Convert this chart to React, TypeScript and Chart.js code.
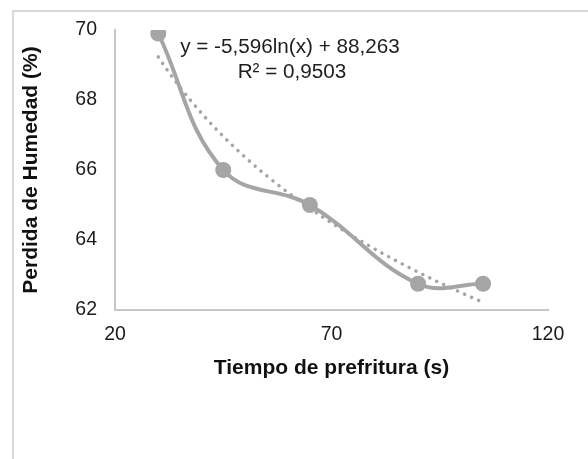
import React, { useEffect, useRef } from "react";
import { Chart, registerables } from "chart.js";

Chart.register(...registerables);

// ---- data ----
const timeValues = [30, 45, 65, 90, 105];
const moistureLoss = [69.9, 66.0, 65.0, 62.75, 62.75];
const xTickValues = [20, 70, 120];
const yTickValues = [62, 64, 66, 68, 70];
// logarithmic trendline coefficients shown on the chart
const trendSlope = -5.596;
const trendIntercept = 88.263;
const trendLabels = ["y = -5,596ln(x) + 88,263", "R² = 0,9503"];
const xAxisTitle = "Tiempo de prefritura (s)";
const yAxisTitle = "Perdida de Humedad (%)";

const FONT = '"Liberation Sans", Arial, sans-serif';
const GRAY = "#a5a5a5";

export default function App() {
  const ref = useRef<HTMLCanvasElement | null>(null);

  useEffect(() => {
    if (!ref.current) return;
    const xMin = timeValues[0];
    const xMax = timeValues[timeValues.length - 1];
    const trend: { x: number; y: number }[] = [];
    const steps = 60;
    for (let i = 0; i <= steps; i++) {
      const x = xMin + ((xMax - xMin) * i) / steps;
      trend.push({ x, y: trendSlope * Math.log(x) + trendIntercept });
    }

    const annot = {
      id: "annot",
      afterDatasetsDraw(chart: any) {
        const { ctx, chartArea } = chart;
        ctx.save();
        ctx.font = `20.7px ${FONT}`;
        ctx.fillStyle = "#1e1e1e";
        ctx.textAlign = "center";
        ctx.textBaseline = "middle";
        ctx.fillText(trendLabels[0], chartArea.left + 175, chartArea.top + 17);
        ctx.fillText(trendLabels[1], chartArea.left + 177, chartArea.top + 42);
        ctx.restore();
      },
    };

    const chart = new Chart(ref.current, {
      type: "scatter",
      data: {
        datasets: [
          {
            label: "trend",
            data: trend,
            showLine: true,
            borderColor: GRAY,
            borderWidth: 3.5,
            borderDash: [0.1, 7.6],
            borderCapStyle: "round",
            pointRadius: 0,
            tension: 0,
          } as any,
          {
            label: "data",
            data: timeValues.map((x, i) => ({ x, y: moistureLoss[i] })),
            showLine: true,
            borderColor: GRAY,
            backgroundColor: GRAY,
            borderWidth: 4,
            tension: 0.4,
            pointRadius: 8,
            pointBorderWidth: 0,
            pointBackgroundColor: GRAY,
          } as any,
        ],
      },
      options: {
        responsive: false,
        animation: false,
        devicePixelRatio: 1,
        layout: { padding: { left: 0, top: 30, right: 40, bottom: 0 } },
        plugins: { legend: { display: false }, tooltip: { enabled: false } },
        scales: {
          x: {
            type: "linear",
            min: 20,
            max: 120,
            afterBuildTicks: (s: any) => {
              s.ticks = xTickValues.map((v) => ({ value: v }));
            },
            afterFit: (s: any) => {
              s.height = 149;
            },
            grid: { display: false, drawTicks: false },
            border: { display: true, color: "#c6c6c6", width: 2 },
            ticks: { padding: 13, color: "#1a1a1a", maxRotation: 0, font: { family: FONT, size: 19.5 } },
            title: {
              display: true,
              text: xAxisTitle,
              color: "#111",
              font: { family: FONT, size: 21, weight: "bold" },
              padding: { top: 0, bottom: 78 },
            },
          },
          y: {
            type: "linear",
            min: 62,
            max: 70,
            afterBuildTicks: (s: any) => {
              s.ticks = yTickValues.map((v) => ({ value: v }));
            },
            afterFit: (s: any) => {
              s.width = 115;
            },
            grid: { display: false, drawTicks: false },
            border: { display: true, color: "#c6c6c6", width: 2 },
            ticks: { padding: 18, color: "#1a1a1a", font: { family: FONT, size: 19.5 } },
            title: {
              display: true,
              text: yAxisTitle,
              color: "#111",
              font: { family: FONT, size: 21, weight: "bold" },
              padding: { top: 19, bottom: 0 },
            },
          },
        },
      },
      plugins: [annot],
    } as any);
    return () => chart.destroy();
  }, []);

  return (
    <div style={{ position: "absolute", left: 0, top: 0, width: 588, height: 459, background: "#fff" }}>
      <div
        style={{
          position: "absolute",
          left: 12,
          top: 10,
          width: 600,
          height: 480,
          borderLeft: "2px solid #d9d9d9",
          borderTop: "2px solid #d9d9d9",
        }}
      />
      <canvas ref={ref} width={588} height={459} style={{ position: "absolute", left: 0, top: 0 }} />
    </div>
  );
}
